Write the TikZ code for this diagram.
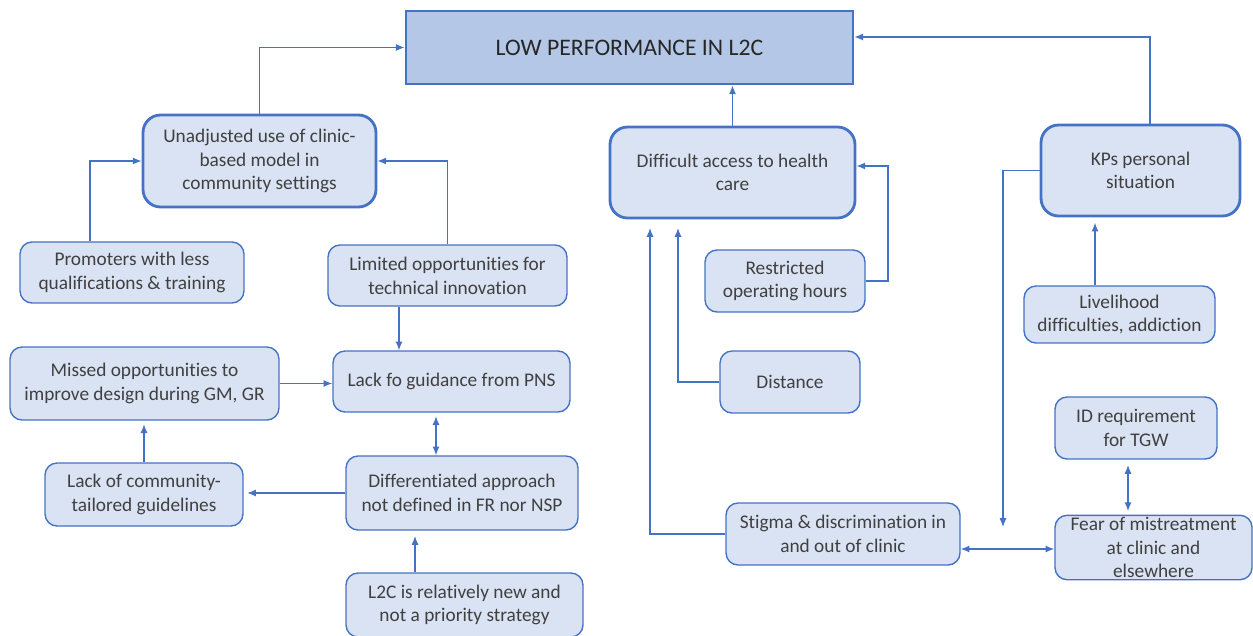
\documentclass[tikz,border=0pt]{standalone}
\usepackage{fontspec}
\setmainfont[Ligatures=CommonOff]{Carlito}
\usepackage{tikz}
\usepackage{xcolor}
\usetikzlibrary{arrows.meta}

\definecolor{lineblue}{HTML}{4472C4}
\definecolor{boxfill}{HTML}{DAE3F3}
\definecolor{topfill}{HTML}{B4C7E7}
\definecolor{textgray}{HTML}{404040}

\begin{document}
\begin{tikzpicture}[x=0.02cm, y=-0.02cm,
    >={Latex[length=5pt,width=4pt]},
    cause/.style={draw=lineblue, fill=boxfill, line width=0.8pt, rounded corners=0.24cm,
        align=center, inner sep=1pt, text=textgray, font=\fontsize{11}{13.5}\selectfont},
    keycause/.style={cause, line width=1.6pt, rounded corners=0.35cm},
    link/.style={draw=lineblue, line width=0.7pt}]
    \useasboundingbox (0,0) rectangle (1253,635);

    % problem
    \node[draw=lineblue, fill=topfill, line width=1.6pt, minimum width=8.94cm, minimum height=1.46cm,
        text=black!85, font=\fontsize{13.5}{16}\selectfont] (problem) at (629.5,47.5) {LOW PERFORMANCE IN L2C};

    % main causes
    \node[keycause, minimum width=4.66cm, minimum height=1.84cm] (clinicmodel) at (259.5,161) {Unadjusted use of clinic-\\based model in\\community settings};
    \node[keycause, minimum width=4.9cm, minimum height=1.82cm] (access) at (732.5,172.5) {Difficult access to health\\care};
    \node[keycause, minimum width=3.98cm, minimum height=1.82cm] (kps) at (1140.5,170.5) {KPs personal\\situation};

    % left branch
    \node[cause, minimum width=4.48cm, minimum height=1.22cm] (promoters) at (132,272.5) {Promoters with less\\qualifications \& training};
    \node[cause, minimum width=4.78cm, minimum height=1.22cm] (innovation) at (447.5,275.5) {Limited opportunities for\\technical innovation};
    \node[cause, minimum width=5.38cm, minimum height=1.46cm] (missed) at (144.5,383.5) {Missed opportunities to\\improve design during GM, GR};
    \node[cause, minimum width=4.74cm, minimum height=1.22cm] (guidance) at (451.5,381.5) {Lack fo guidance from PNS};
    \node[cause, minimum width=3.96cm, minimum height=1.26cm] (guidelines) at (144,494.5) {Lack of community-\\tailored guidelines};
    \node[cause, minimum width=4.64cm, minimum height=1.48cm] (approach) at (462,493) {Differentiated approach\\not defined in FR nor NSP};
    \node[cause, minimum width=4.74cm, minimum height=1.28cm] (newness) at (464.5,605) {L2C is relatively new and\\not a priority strategy};

    % middle branch
    \node[cause, minimum width=3.2cm, minimum height=1.24cm] (hours) at (785,281) {Restricted\\operating hours};
    \node[cause, minimum width=2.8cm, minimum height=1.24cm] (distance) at (790,382) {Distance};
    \node[cause, minimum width=4.68cm, minimum height=1.24cm] (stigma) at (843,534) {Stigma \& discrimination in\\and out of clinic};

    % right branch
    \node[cause, minimum width=3.82cm, minimum height=1.14cm] (livelihood) at (1119.5,314.5) {Livelihood\\difficulties, addiction};
    \node[cause, minimum width=3.24cm, minimum height=1.24cm] (idreq) at (1136,428) {ID requirement\\for TGW};
    \node[cause, minimum width=3.94cm, minimum height=1.26cm] (fear) at (1153.5,547.5) {Fear of mistreatment\\at clinic and\\elsewhere};

    % attachment points
    \coordinate (promotersup) at (90,0);
    \coordinate (innovationdown) at (399,0);
    \coordinate (guidancedown) at (436,0);
    \coordinate (newnessup) at (415,0);
    \coordinate (kpsup) at (1150,37);
    \coordinate (hoursbend) at (888,166);
    \coordinate (distanceend) at (678,228);
    \coordinate (stigmaend) at (650,228);
    \coordinate (kpsend) at (1003,527);
    \coordinate (livelihoodup) at (1095,0);
    \coordinate (stigmafear) at (0,549);
    \coordinate (idfear) at (1128,0);

    % connectors
    \draw[link, ->] (clinicmodel.north) |- (problem.west);
    \draw[link, ->] (access.north) -- (access.north |- problem.south);
    \draw[link, ->] (kps.north -| kpsup) -- (kpsup) -- (kpsup -| problem.east);
    \draw[link, ->] (promoters.north -| promotersup) |- (clinicmodel.west);
    \draw[link, ->] (innovation.north) |- (clinicmodel.east);
    \draw[link, ->] (innovation.south -| innovationdown) -- (guidance.north -| innovationdown);
    \draw[link, ->] (missed.east) -- (missed.east -| guidance.west);
    \draw[link, <->, shorten <=2pt] (guidance.south -| guidancedown) -- (approach.north -| guidancedown);
    \draw[link, ->, shorten >=2pt] (approach.west) -- (approach.west -| guidelines.east);
    \draw[link, ->, shorten >=2pt] (guidelines.north) -- (guidelines.north |- missed.south);
    \draw[link, ->, shorten >=3pt] (newness.north -| newnessup) -- (approach.south -| newnessup);
    \draw[link, ->] (hours.east) -| (hoursbend) -- (hoursbend -| access.east);
    \draw[link, ->] (distance.west) -| (distanceend);
    \draw[link, ->] (stigma.west) -| (stigmaend);
    \draw[link, ->] (kps.west) -| (kpsend);
    \draw[link, ->, shorten >=3pt] (livelihood.north -| livelihoodup) -- (kps.south -| livelihoodup);
    \draw[link, <->] (stigma.east |- stigmafear) -- (fear.west |- stigmafear);
    \draw[link, <->, shorten <=3pt, shorten >=2pt] (idreq.south -| idfear) -- (fear.north -| idfear);
\end{tikzpicture}
\end{document}
